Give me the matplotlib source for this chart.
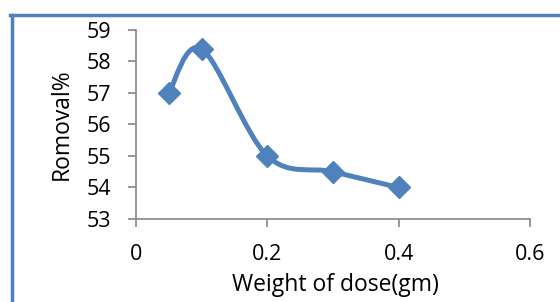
import numpy as np
import matplotlib.pyplot as plt
from matplotlib.path import Path
from matplotlib.patches import PathPatch
from matplotlib.lines import Line2D

# data
dose = [0.05, 0.1, 0.2, 0.3, 0.4]
removal = [57.0, 58.4, 55.0, 54.5, 54.0]
xticks = [0, 0.2, 0.4, 0.6]
yticks = [53, 54, 55, 56, 57, 58, 59]

blue = '#4F81BD'
grey = '#868686'
plt.rcParams['font.family'] = ['Open Sans', 'DejaVu Sans']

fig = plt.figure(figsize=(5.6, 3.02), dpi=100)
ax = fig.add_axes([136/560, 1-219/302, (530-136)/560, (219-30)/302])

# smoothed line like the spreadsheet one (bezier through the points)
x = np.array(dose)
y = np.array(removal)
verts = [(x[0], y[0])]
codes = [Path.MOVETO]
n = len(x)
for i in range(n - 1):
    x0, y0 = (x[i-1], y[i-1]) if i > 0 else (x[i], y[i])
    x3, y3 = (x[i+2], y[i+2]) if i + 2 < n else (x[i+1], y[i+1])
    c1 = (x[i] + (x[i+1] - x0) / 6, y[i] + (y[i+1] - y0) / 6)
    c2 = (x[i+1] - (x3 - x[i]) / 6, y[i+1] - (y3 - y[i]) / 6)
    verts += [c1, c2, (x[i+1], y[i+1])]
    codes += [Path.CURVE4] * 3
ax.add_patch(PathPatch(Path(verts, codes), facecolor='none', edgecolor=blue, lw=3.6, capstyle='round', joinstyle='round'))
ax.plot(dose, removal, linestyle='none', marker='D', ms=11.5, color=blue)

ax.set_xlim(0, 0.6)
ax.set_ylim(53, 59)
ax.set_xticks(xticks)
ax.set_xticklabels(['0', '0.2', '0.4', '0.6'])
ax.set_yticks(yticks)
for s in ['top', 'right']:
    ax.spines[s].set_visible(False)
for s in ['left', 'bottom']:
    ax.spines[s].set_color(grey)
    ax.spines[s].set_linewidth(1.2)
ax.tick_params(colors=grey, labelcolor='black', labelsize=15.5, length=6, width=1.2)
ax.tick_params(axis='x', pad=12)
ax.tick_params(axis='y', pad=12)
ax.set_xlabel('Weight of dose(gm)', fontsize=16.5)
ax.set_ylabel('Romoval%', fontsize=16.5)
ax.xaxis.set_label_coords(335/560, 1-285/302, transform=fig.transFigure)
ax.yaxis.set_label_coords(62/560, 1-124/302, transform=fig.transFigure)
ax.xaxis.label.set_va('center')
ax.yaxis.label.set_va('center')

# frame border (top and left edges of the original chart box)
fig.add_artist(Line2D([10/560, 1], [1-15/302, 1-15/302], color=blue, lw=2.5, transform=fig.transFigure))
fig.add_artist(Line2D([12/560, 12/560], [0, 1-15/302], color=blue, lw=2.5, transform=fig.transFigure))

fig.savefig('out.png', dpi=100)
